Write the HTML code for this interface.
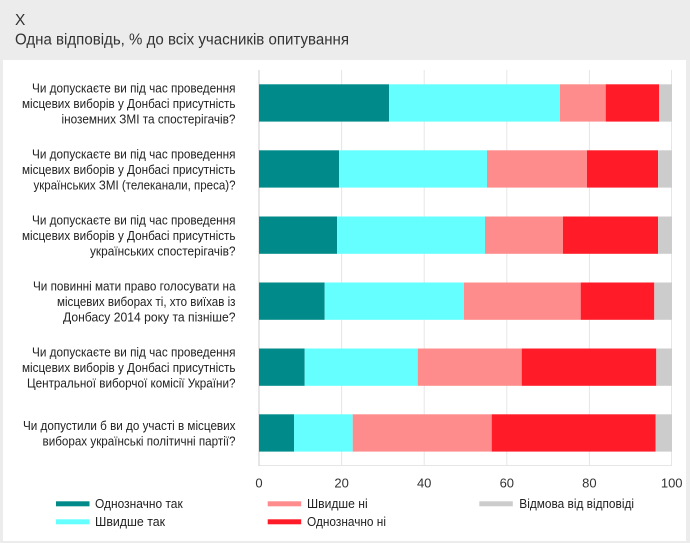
<!DOCTYPE html>
<html><head><meta charset="utf-8"><style>
html,body{margin:0;padding:0;background:#ececec;}
svg{display:block;font-family:"Liberation Sans","DejaVu Sans",sans-serif;}
</style></head><body>
<svg width="690" height="543" viewBox="0 0 690 543" xmlns="http://www.w3.org/2000/svg">
<rect x="0" y="0" width="690" height="543" fill="#ececec"/>
<text x="15" y="25" font-size="15.5" fill="#333">X</text>
<text x="15" y="44.5" font-size="15.5" fill="#333" textLength="334" lengthAdjust="spacingAndGlyphs">Одна відповідь, % до всіх учасників опитування</text>
<rect x="3" y="60" width="683" height="481" fill="#fff"/>
<!-- grid -->
<g stroke="#e6e6e6" stroke-width="1">
<line x1="341.6" y1="70" x2="341.6" y2="466"/>
<line x1="424.2" y1="70" x2="424.2" y2="466"/>
<line x1="506.8" y1="70" x2="506.8" y2="466"/>
<line x1="589.4" y1="70" x2="589.4" y2="466"/>
<line x1="671.5" y1="70" x2="671.5" y2="466"/>
<line x1="259" y1="465.5" x2="672" y2="465.5"/>
</g>
<line x1="259" y1="70" x2="259" y2="466" stroke="#cccccc" stroke-width="1"/>
<!-- bars: x0=259, scale 4.13 -->
<g>
<rect x="259" y="84.3" width="130" height="37.3" fill="#008b8a"/>
<rect x="389" y="84.3" width="171" height="37.3" fill="#66ffff"/>
<rect x="560" y="84.3" width="45.7" height="37.3" fill="#ff8c8c"/>
<rect x="605.7" y="84.3" width="53.3" height="37.3" fill="#ff1c28"/>
<rect x="659" y="84.3" width="13" height="37.3" fill="#cccccc"/>

<rect x="259" y="150.3" width="80" height="37.3" fill="#008b8a"/>
<rect x="339" y="150.3" width="148" height="37.3" fill="#66ffff"/>
<rect x="487" y="150.3" width="100" height="37.3" fill="#ff8c8c"/>
<rect x="587" y="150.3" width="71" height="37.3" fill="#ff1c28"/>
<rect x="658" y="150.3" width="14" height="37.3" fill="#cccccc"/>

<rect x="259" y="216.5" width="78" height="37.3" fill="#008b8a"/>
<rect x="337" y="216.5" width="148" height="37.3" fill="#66ffff"/>
<rect x="485" y="216.5" width="78" height="37.3" fill="#ff8c8c"/>
<rect x="563" y="216.5" width="95" height="37.3" fill="#ff1c28"/>
<rect x="658" y="216.5" width="14" height="37.3" fill="#cccccc"/>

<rect x="259" y="282.5" width="65.7" height="37.3" fill="#008b8a"/>
<rect x="324.7" y="282.5" width="139.3" height="37.3" fill="#66ffff"/>
<rect x="464" y="282.5" width="116.7" height="37.3" fill="#ff8c8c"/>
<rect x="580.7" y="282.5" width="73.6" height="37.3" fill="#ff1c28"/>
<rect x="654.3" y="282.5" width="17.7" height="37.3" fill="#cccccc"/>

<rect x="259" y="348.5" width="45.7" height="37.3" fill="#008b8a"/>
<rect x="304.7" y="348.5" width="113" height="37.3" fill="#66ffff"/>
<rect x="417.7" y="348.5" width="104" height="37.3" fill="#ff8c8c"/>
<rect x="521.7" y="348.5" width="134.6" height="37.3" fill="#ff1c28"/>
<rect x="656.3" y="348.5" width="15.7" height="37.3" fill="#cccccc"/>

<rect x="259" y="414.3" width="35" height="37.3" fill="#008b8a"/>
<rect x="294" y="414.3" width="58.7" height="37.3" fill="#66ffff"/>
<rect x="352.7" y="414.3" width="139" height="37.3" fill="#ff8c8c"/>
<rect x="491.7" y="414.3" width="164" height="37.3" fill="#ff1c28"/>
<rect x="655.7" y="414.3" width="16.3" height="37.3" fill="#cccccc"/>
</g>
<!-- labels -->
<g font-size="12.5" fill="#222" text-anchor="end">
<text x="235.5" y="92.5" textLength="203.5" lengthAdjust="spacingAndGlyphs">Чи допускаєте ви під час проведення</text>
<text x="235.5" y="108" textLength="213.5" lengthAdjust="spacingAndGlyphs">місцевих виборів у Донбасі присутність</text>
<text x="235.5" y="123.5" textLength="174" lengthAdjust="spacingAndGlyphs">іноземних ЗМІ та спостерігачів?</text>

<text x="235.5" y="158.5" textLength="203.5" lengthAdjust="spacingAndGlyphs">Чи допускаєте ви під час проведення</text>
<text x="235.5" y="174" textLength="213.5" lengthAdjust="spacingAndGlyphs">місцевих виборів у Донбасі присутність</text>
<text x="235.5" y="189.5" textLength="202" lengthAdjust="spacingAndGlyphs">українських ЗМІ (телеканали, преса)?</text>

<text x="235.5" y="224.5" textLength="203.5" lengthAdjust="spacingAndGlyphs">Чи допускаєте ви під час проведення</text>
<text x="235.5" y="240" textLength="213.5" lengthAdjust="spacingAndGlyphs">місцевих виборів у Донбасі присутність</text>
<text x="235.5" y="255.5" textLength="145.5" lengthAdjust="spacingAndGlyphs">українських спостерігачів?</text>

<text x="235.5" y="290.5" textLength="202.5" lengthAdjust="spacingAndGlyphs">Чи повинні мати право голосувати на</text>
<text x="235.5" y="306" textLength="178.5" lengthAdjust="spacingAndGlyphs">місцевих виборах ті, хто виїхав із</text>
<text x="235.5" y="321.5" textLength="172.5" lengthAdjust="spacingAndGlyphs">Донбасу 2014 року та пізніше?</text>

<text x="235.5" y="356.5" textLength="203.5" lengthAdjust="spacingAndGlyphs">Чи допускаєте ви під час проведення</text>
<text x="235.5" y="372" textLength="213.5" lengthAdjust="spacingAndGlyphs">місцевих виборів у Донбасі присутність</text>
<text x="235.5" y="387.5" textLength="208.5" lengthAdjust="spacingAndGlyphs">Центральної виборчої комісії України?</text>

<text x="235.5" y="430" textLength="212.5" lengthAdjust="spacingAndGlyphs">Чи допустили б ви до участі в місцевих</text>
<text x="235.5" y="445.5" textLength="193" lengthAdjust="spacingAndGlyphs">виборах українські політичні партії?</text>
</g>
<!-- ticks -->
<g font-size="13" fill="#333" text-anchor="middle">
<text x="259" y="487.5">0</text>
<text x="341.6" y="487.5">20</text>
<text x="424.2" y="487.5">40</text>
<text x="506.8" y="487.5">60</text>
<text x="589.4" y="487.5">80</text>
<text x="671.7" y="487.5">100</text>
</g>
<!-- legend -->
<rect x="56" y="501.3" width="33.5" height="5" fill="#008b8a"/>
<rect x="56" y="519.3" width="33.5" height="5" fill="#66ffff"/>
<rect x="267.7" y="501.3" width="33.5" height="5" fill="#ff8c8c"/>
<rect x="267.7" y="519.3" width="33.5" height="5" fill="#ff1c28"/>
<rect x="479.3" y="501.3" width="33.5" height="5" fill="#cccccc"/>
<g font-size="12.5" fill="#222">
<text x="95" y="508" textLength="87.7" lengthAdjust="spacingAndGlyphs">Однозначно так</text>
<text x="95" y="526" textLength="70" lengthAdjust="spacingAndGlyphs">Швидше так</text>
<text x="307" y="508" textLength="60.7" lengthAdjust="spacingAndGlyphs">Швидше ні</text>
<text x="307" y="526" textLength="79" lengthAdjust="spacingAndGlyphs">Однозначно ні</text>
<text x="519.3" y="508" textLength="114.7" lengthAdjust="spacingAndGlyphs">Відмова від відповіді</text>
</g>
</svg>
</body></html>
